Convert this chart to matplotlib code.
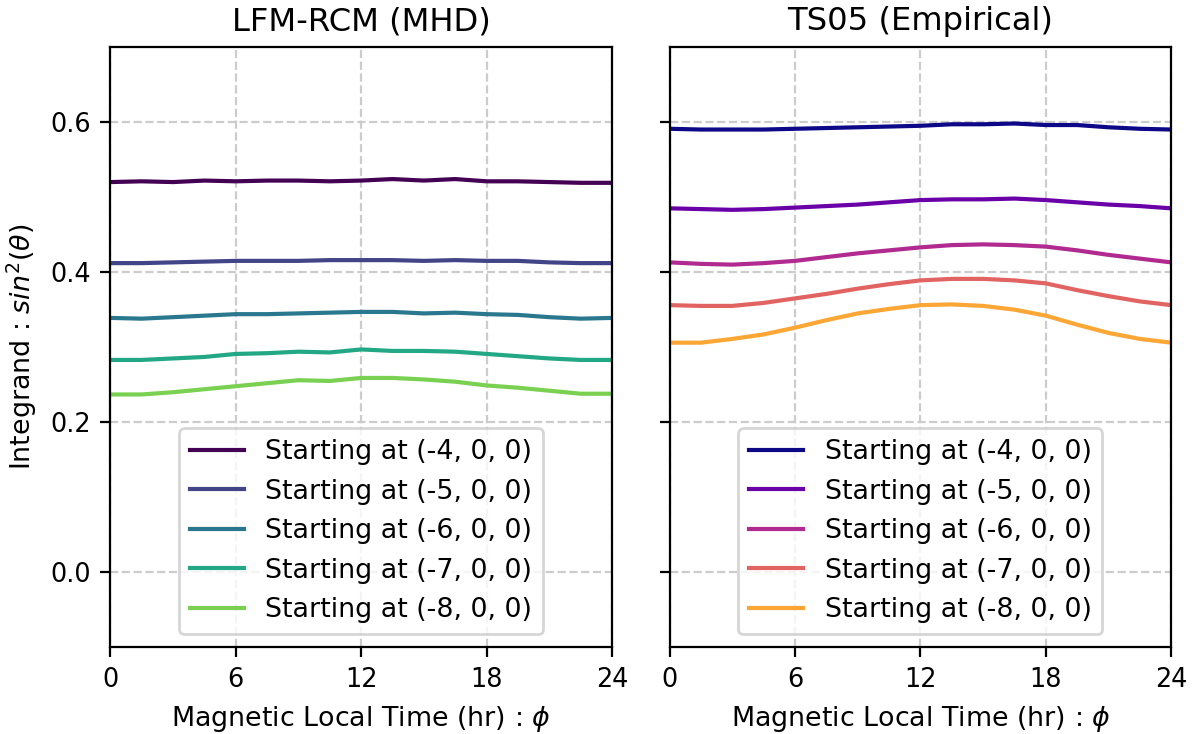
import matplotlib

matplotlib.use("Agg")
import matplotlib.pyplot as plt
import numpy as np

# magnetic local time samples (hr)
mlt = [0, 1.5, 3, 4.5, 6, 7.5, 9, 10.5, 12, 13.5, 15, 16.5, 18, 19.5, 21, 22.5, 24]
starts = ["(-4, 0, 0)", "(-5, 0, 0)", "(-6, 0, 0)", "(-7, 0, 0)", "(-8, 0, 0)"]

# LFM-RCM (MHD)
mhd_m4 = [0.520, 0.521, 0.520, 0.522, 0.521, 0.522, 0.522, 0.521, 0.522, 0.524, 0.522, 0.524, 0.521, 0.521, 0.520, 0.519, 0.519]
mhd_m5 = [0.412, 0.412, 0.413, 0.414, 0.415, 0.415, 0.415, 0.416, 0.416, 0.416, 0.415, 0.416, 0.415, 0.415, 0.413, 0.412, 0.412]
mhd_m6 = [0.339, 0.338, 0.340, 0.342, 0.344, 0.344, 0.345, 0.346, 0.347, 0.347, 0.345, 0.346, 0.344, 0.343, 0.340, 0.338, 0.339]
mhd_m7 = [0.283, 0.283, 0.285, 0.287, 0.291, 0.292, 0.294, 0.293, 0.297, 0.295, 0.295, 0.294, 0.291, 0.288, 0.285, 0.283, 0.283]
mhd_m8 = [0.237, 0.237, 0.240, 0.244, 0.248, 0.252, 0.256, 0.255, 0.259, 0.259, 0.257, 0.254, 0.249, 0.246, 0.242, 0.238, 0.238]

# TS05 (Empirical)
ts_m4 = [0.591, 0.590, 0.590, 0.590, 0.591, 0.592, 0.593, 0.594, 0.595, 0.597, 0.597, 0.598, 0.596, 0.596, 0.593, 0.591, 0.590]
ts_m5 = [0.485, 0.484, 0.483, 0.484, 0.486, 0.488, 0.490, 0.493, 0.496, 0.497, 0.497, 0.498, 0.496, 0.493, 0.490, 0.488, 0.485]
ts_m6 = [0.413, 0.411, 0.410, 0.412, 0.415, 0.420, 0.425, 0.429, 0.433, 0.436, 0.437, 0.436, 0.434, 0.429, 0.423, 0.418, 0.413]
ts_m7 = [0.356, 0.355, 0.355, 0.359, 0.365, 0.371, 0.378, 0.384, 0.389, 0.391, 0.391, 0.389, 0.385, 0.376, 0.368, 0.361, 0.356]
ts_m8 = [0.306, 0.306, 0.311, 0.317, 0.326, 0.336, 0.345, 0.351, 0.356, 0.357, 0.355, 0.350, 0.342, 0.330, 0.319, 0.311, 0.306]

mhd = [mhd_m4, mhd_m5, mhd_m6, mhd_m7, mhd_m8]
ts05 = [ts_m4, ts_m5, ts_m6, ts_m7, ts_m8]

plt.rcParams.update({"font.size": 9.7, "xtick.labelsize": 9.2, "ytick.labelsize": 9.2})

fig, axes = plt.subplots(1, 2, figsize=(6, 3.67), dpi=200, sharey=True)
fig.subplots_adjust(left=0.092, right=0.976, top=0.936, bottom=0.118, wspace=0.115)

panels = [
    (axes[0], mhd, plt.cm.viridis, "LFM-RCM (MHD)"),
    (axes[1], ts05, plt.cm.plasma, "TS05 (Empirical)"),
]
for ax, series, cmap, title in panels:
    colors = cmap(np.linspace(0, 0.8, len(series)))
    for vals, lab, c in zip(series, starts, colors):
        ax.plot(mlt, vals, color=c, lw=1.5, label=f"Starting at {lab}")
    ax.set_xlim(0, 24)
    ax.set_ylim(-0.1, 0.7)
    ax.set_xticks([0, 6, 12, 18, 24])
    ax.set_yticks([0.0, 0.2, 0.4, 0.6])
    ax.grid(True, linestyle="--", color="#cccccc", lw=0.8)
    ax.set_title(title, fontsize=11.6)
    ax.set_xlabel(r"Magnetic Local Time (hr) : $\phi$")
    ax.legend(loc="lower center")

axes[0].set_ylabel(r"Integrand : $sin^2(\theta)$")

fig.savefig("out.png", dpi=200)
